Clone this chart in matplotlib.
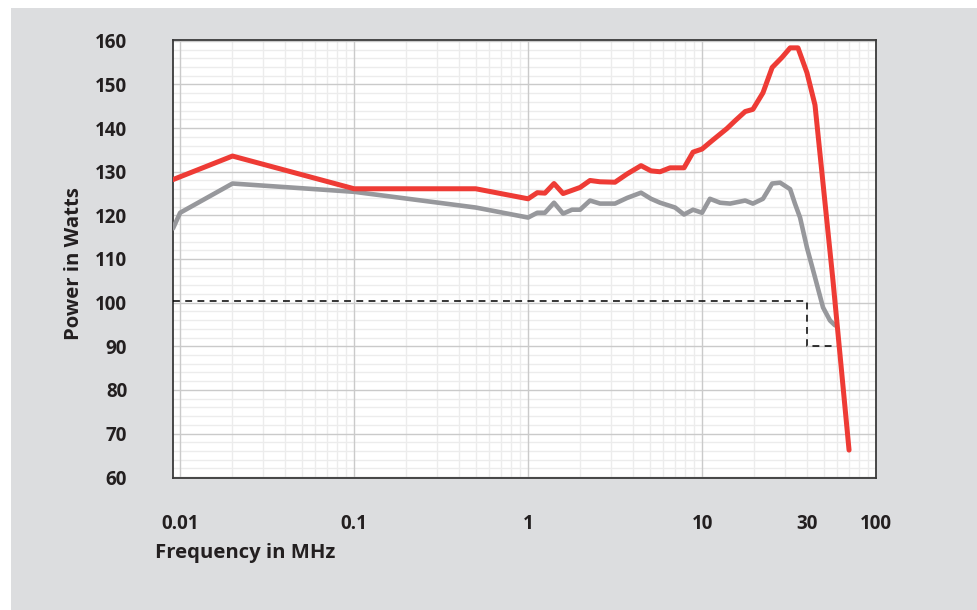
import matplotlib
matplotlib.use("Agg")
import matplotlib.pyplot as plt
from matplotlib.ticker import FixedLocator, LogLocator, MultipleLocator, NullFormatter
from matplotlib.patches import Rectangle

# ---- data ----
red_freq = [0.0091, 0.02, 0.1, 0.5, 1.0, 1.13, 1.25, 1.41, 1.59, 1.99, 2.27, 2.59, 3.16,
            3.71, 4.46, 5.09, 5.74, 6.55, 7.88, 8.88, 10.0, 11.4, 13.9, 15.5, 17.7, 19.6,
            22.4, 25.3, 28.8, 32.1, 35.6, 40.1, 44.6, 56.6, 70.0]
red_power = [128.2, 133.6, 126.1, 126.1, 123.8, 125.2, 125.1, 127.3, 125.0, 126.4, 128.0,
             127.7, 127.6, 129.5, 131.4, 130.2, 130.0, 130.9, 130.9, 134.5, 135.2, 137.1,
             139.9, 141.7, 143.8, 144.3, 148.1, 153.9, 156.2, 158.4, 158.4, 152.7, 145.3,
             105.0, 66.2]

gray_freq = [0.0091, 0.01, 0.02, 0.1, 0.5, 1.0, 1.13, 1.25, 1.41, 1.59, 1.79, 1.99, 2.27,
             2.59, 3.16, 3.71, 4.46, 5.09, 5.74, 7.0, 7.88, 8.88, 10.0, 11.1, 12.7, 14.5,
             17.7, 19.6, 22.4, 25.3, 28.1, 32.1, 34.2, 36.6, 40.1, 42.9, 44.6, 49.6, 54.4, 58.1]
gray_power = [117.0, 120.6, 127.3, 125.4, 121.8, 119.5, 120.6, 120.6, 122.9, 120.4, 121.3,
              121.3, 123.4, 122.7, 122.7, 124.0, 125.2, 123.8, 122.9, 121.8, 120.2, 121.3,
              120.6, 123.8, 122.9, 122.7, 123.4, 122.7, 123.8, 127.3, 127.5, 126.0, 122.7,
              119.5, 112.6, 108.3, 105.8, 98.9, 95.9, 94.8]

spec_freq = [0.0091, 40.1, 40.1, 60.5]
spec_power = [100.4, 100.4, 90.0, 90.0]

ytick_values = [60, 70, 80, 90, 100, 110, 120, 130, 140, 150, 160]
xtick_pos = [0.01, 0.1, 1, 10, 40, 100]
xtick_labels = ["0.01", "0.1", "1", "10", "30", "100"]

# ---- figure ----
W, H = 978, 610
fig = plt.figure(figsize=(W / 100, H / 100), dpi=100, facecolor="white")
bg = Rectangle((11 / W, 0), 1 - 11 / W, 1 - 8 / H, transform=fig.transFigure,
               facecolor="#dcdddf", edgecolor="none", zorder=-10)
fig.add_artist(bg)

ax = fig.add_axes([173 / W, 1 - 478 / H, 703 / W, 438 / H])
ax.set_zorder(1)
ax.set_facecolor("white")
ax.set_xscale("log")
ax.set_xlim(0.0091, 100)
ax.set_ylim(59.8, 160.2)

font = dict(family=["Open Sans", "DejaVu Sans"], weight="bold", size=13.5, color="#231f20")
label_font = dict(font, size=14.6)

ax.xaxis.set_major_locator(FixedLocator(xtick_pos))
ax.set_xticklabels(xtick_labels, fontdict=font)
ax.xaxis.set_minor_locator(LogLocator(base=10, subs=range(2, 10), numticks=20))
ax.xaxis.set_minor_formatter(NullFormatter())
ax.yaxis.set_major_locator(FixedLocator(ytick_values))
ax.set_yticklabels([str(v) for v in ytick_values], fontdict=font)
ax.yaxis.set_minor_locator(MultipleLocator(2))
ax.tick_params(axis="both", which="both", length=0)
ax.tick_params(axis="y", pad=33)
ax.tick_params(axis="x", pad=26)

# grid
for d in [0.01, 0.1, 1, 10]:
    ax.axvline(d, color="#cacaca", lw=1.0, zorder=1)
for m in range(1, 5):
    for s in range(2, 10):
        ax.axvline(s * 10.0 ** (m - 3), color="#ececec", lw=1.0, zorder=0.5)
for v in range(60, 161, 2):
    if v % 10 == 0:
        ax.axhline(v, color="#cacaca", lw=1.0, zorder=1)
    else:
        ax.axhline(v, color="#ececec", lw=1.0, zorder=0.5)

for s in ax.spines.values():
    s.set_color("#3a3a3a")
    s.set_linewidth(1.3)

ax.plot(spec_freq, spec_power, color="black", lw=1.1, ls=(0, (4.5, 3.5)), zorder=3)
ax.plot(gray_freq, gray_power, color="#97989c", lw=3.3, solid_capstyle="round",
        solid_joinstyle="round", zorder=4)
ax.plot(red_freq, red_power, color="#ee3b35", lw=3.6, solid_capstyle="round",
        solid_joinstyle="round", zorder=5)

fig.text(74 / W, 1 - 264 / H, "Power in Watts", rotation=90, ha="center", va="center", **label_font)
fig.text(155 / W, 1 - 553 / H, "Frequency in MHz", ha="left", va="center", **label_font)

fig.savefig("out.png", dpi=100, facecolor=fig.get_facecolor())
